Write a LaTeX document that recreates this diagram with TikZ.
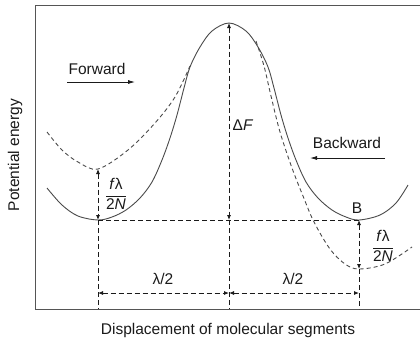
\documentclass[tikz,border=0pt]{standalone}
\usepackage{amsmath}
\usepackage{fontspec}
\setmainfont{Liberation Sans}
\usepackage{tikz}
\usetikzlibrary{arrows.meta, positioning}
\definecolor{curve}{HTML}{4A4A4A}
\definecolor{frame}{HTML}{555555}
\definecolor{ink}{HTML}{1A1A1A}

\begin{document}
\begin{tikzpicture}[x=1pt, y=-1pt,
    lbl/.style={font=\fontsize{15.5}{18}\selectfont, text=ink, inner sep=0pt},
    pot/.style={curve, line width=0.9pt},
    tilted/.style={curve, line width=0.9pt, dash pattern=on 4pt off 3pt},
    guide/.style={ink, line width=0.8pt, dash pattern=on 5pt off 3pt},
    dim/.style={guide, {Latex[length=5pt,width=4pt]}-{Latex[length=5pt,width=4pt]}},
    push/.style={-{Latex[length=7pt,width=4pt]}, ink, line width=0.8pt},
  ]
  \useasboundingbox (0,0) rectangle (420,341);
  \draw[frame, line width=1pt] (420,5) -- (35,5) -- (35,309) -- (420,309);

  % wells and barrier
  \coordinate (A)    at (98,220);
  \coordinate (top)  at (229,23);
  \coordinate (B)    at (359,220);
  \coordinate (Aup)  at (98,169);
  \coordinate (Bdn)  at (359,269);
  \coordinate (mid)  at (229,220);
  \coordinate (Abot) at (98,309);
  \coordinate (Mbot) at (229,309);
  \coordinate (Bbot) at (359,309);
  \coordinate (Ahl)  at (98,293);
  \coordinate (Mhl)  at (229,293);
  \coordinate (Bhl)  at (359,293);

  \draw[pot] plot[smooth, tension=0.55] coordinates {
    (47,188) (62,205) (78,216) (A) (112,217) (126,210) (140,198) (152,182)
    (162,160) (170,138) (177,115) (184,88) (190,67) (200,47) (212,31) (top)
    (246,31) (258,47) (268,67) (274,88) (281,115) (288,138) (296,160) (306,182)
    (318,198) (332,210) (346,217) (B) (380,215) (396,203) (408,185)};
  \draw[tilted] plot[smooth, tension=0.55] coordinates {
    (47,132) (62,150) (78,162) (Aup) (128,150) (155,123) (175,97) (190,66)};
  \draw[tilted] plot[smooth, tension=0.55] coordinates {
    (256,41) (264,66) (271,96) (280,132) (292,168) (303,196) (314,222) (330,249)
    (345,264) (Bdn) (385,264) (412,247)};

  % guides
  \draw[guide] (A) -- (B);
  \draw[guide] (A) -- (Abot);
  \draw[guide] (mid) -- (Mbot);
  \draw[guide] (Bdn) -- (Bbot);
  \draw[dim] (top) -- (mid);
  \draw[dim] (Aup) -- (A);
  \draw[dim] (B) -- (Bdn);
  \draw[dim] (Ahl) -- (Mhl);
  \draw[dim] (Mhl) -- (Bhl);

  \node[lbl] (dF)    at (243,125) {Δ\textit{F}};
  \node[lbl] (lamA)  at (163,279) {λ/2};
  \node[lbl] (lamB)  at (293,279) {λ/2};
  \node[lbl] (Blab)  at (357,208) {B};
  \node[lbl] (fracA) at (116,194) {$\dfrac{\text{\itshape f\/\upshape λ}}{\text{2\itshape N}}$};
  \node[lbl] (fracB) at (383,246) {$\dfrac{\text{\itshape f\/\upshape λ}}{\text{2\itshape N}}$};

  \node[lbl] (fwd) at (97,69) {Forward};
  \coordinate (fw1) at (67,82);
  \coordinate (fw2) at (135,82);
  \draw[push] (fw1) -- (fw2);
  \node[lbl] (bwd) at (347,143) {Backward};
  \coordinate (bw1) at (385,158);
  \coordinate (bw2) at (310,158);
  \draw[push] (bw1) -- (bw2);

  \node[lbl, rotate=90] (ylab) at (15,155) {Potential energy};
  \node[lbl] (xlab) at (228,330) {Displacement of molecular segments};
\end{tikzpicture}
\end{document}
